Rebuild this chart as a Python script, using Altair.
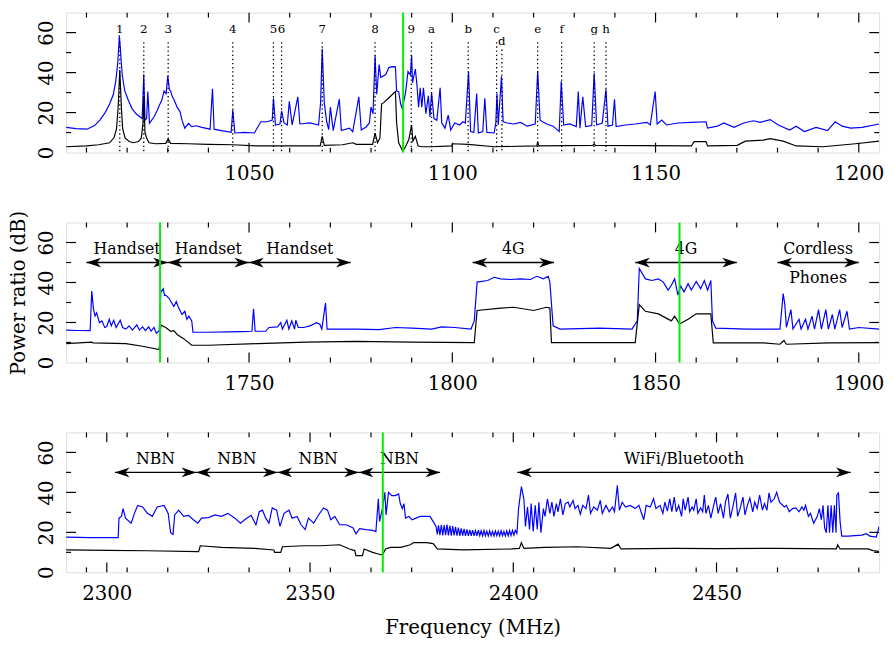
import altair as alt
import pandas as pd

FONT = "DejaVu Serif"
W, H = 825, 142

# ---------------- Panel 1 (1005-1205 MHz) ----------------
P1_BLUE = [(1005.0,12.6),(1007.5,12.0),(1010.1,11.7),(1012.0,13.5),(1013.3,16.2),(1014.6,20.0),(1015.7,24.3),(1016.6,29.0),(1017.2,35.7),(1017.7,45.0),(1018.1,58.7),(1018.5,47.0),(1018.8,38.9),(1019.4,31.0),(1020.2,26.7),(1021.2,22.0),(1022.2,19.4),(1023.7,17.0),(1024.1,39.2),(1024.4,16.2),(1024.8,17.0),(1025.1,30.5),(1025.5,14.6),(1026.6,17.8),(1027.4,21.0),(1027.9,23.5),(1028.5,26.0),(1029.1,30.8),(1029.6,29.5),(1030.0,38.4),(1030.4,31.5),(1030.7,30.8),(1031.1,28.0),(1031.5,26.7),(1032.3,22.7),(1033.0,20.5),(1033.5,16.2),(1034.2,12.2),(1035.1,14.6),(1035.9,13.0),(1037.0,13.4),(1038.4,12.6),(1040.4,11.7),(1041.0,31.9),(1041.4,11.7),(1043.2,11.0),(1045.6,10.1),(1046.0,21.4),(1046.5,9.8),(1048.9,10.1),(1051.3,9.8),(1052.9,15.4),(1054.5,15.4),(1055.7,16.2),(1056.0,27.2),(1056.5,13.8),(1057.6,14.3),(1058.0,20.8),(1058.6,14.8),(1059.4,13.8),(1059.9,25.6),(1060.6,13.8),(1062.0,27.9),(1062.5,14.3),(1065.0,14.8),(1067.1,13.8),(1067.6,25.0),(1068.0,51.9),(1068.5,25.0),(1069.1,15.4),(1069.6,11.5),(1070.0,22.7),(1070.7,11.0),(1072.2,26.7),(1072.7,11.0),(1074.7,12.2),(1075.5,10.4),(1077.0,27.9),(1077.6,11.3),(1078.8,12.8),(1079.6,14.8),(1080.0,22.7),(1080.5,19.4),(1081.0,48.7),(1081.4,29.2),(1082.0,44.0),(1082.4,37.6),(1083.6,38.9),(1084.4,42.5),(1085.2,43.0),(1086.0,42.9),(1086.3,30.8),(1086.8,30.5),(1087.3,24.3),(1087.7,21.9),(1088.5,30.0),(1089.1,40.5),(1089.7,38.9),(1090.0,48.7),(1090.2,34.9),(1090.9,41.8),(1091.3,34.0),(1091.7,22.7),(1092.1,32.4),(1092.5,22.7),(1092.9,32.4),(1093.5,19.4),(1094.1,28.4),(1094.5,17.8),(1094.9,30.0),(1095.5,17.0),(1096.2,16.2),(1097.0,32.4),(1097.4,14.8),(1098.2,12.2),(1099.0,18.7),(1099.6,11.3),(1100.6,14.8),(1101.8,13.8),(1102.6,15.4),(1103.2,14.8),(1104.0,40.5),(1104.5,10.5),(1105.3,10.1),(1106.0,29.5),(1106.4,9.8),(1107.5,10.5),(1108.0,27.2),(1108.5,10.1),(1110.3,9.8),(1110.7,14.8),(1111.0,29.5),(1111.3,13.8),(1112.1,38.1),(1112.5,15.4),(1113.5,14.8),(1115.1,14.3),(1116.8,15.1),(1118.4,13.2),(1120.4,14.3),(1121.0,40.8),(1121.6,16.2),(1123.2,14.3),(1124.8,13.2),(1126.3,10.5),(1126.8,35.7),(1127.4,13.8),(1128.9,14.3),(1130.5,13.0),(1131.0,30.5),(1131.4,12.2),(1132.1,27.9),(1132.8,13.0),(1134.3,13.5),(1134.9,39.7),(1135.5,13.8),(1136.9,14.8),(1137.8,31.6),(1138.3,13.2),(1139.4,13.8),(1139.9,26.7),(1140.3,13.0),(1142.6,13.8),(1145.0,14.3),(1147.9,15.1),(1148.7,13.8),(1149.9,30.5),(1150.4,14.3),(1151.5,16.2),(1152.7,13.8),(1155.5,14.8),(1158.8,15.1),(1162.4,15.4),(1162.8,12.2),(1165.2,13.2),(1166.8,14.8),(1169.3,12.6),(1171.7,14.8),(1174.1,15.9),(1175.7,15.1),(1178.2,16.5),(1180.2,13.8),(1183.0,11.3),(1184.6,13.2),(1186.6,10.5),(1189.5,12.6),(1192.3,11.0),(1194.2,15.4),(1195.9,13.2),(1198.0,12.2),(1200.8,12.6),(1205.0,14.3)]
P1_BLACK = [(1005.0,2.9),(1010.0,3.3),(1013.0,3.9),(1015.7,4.9),(1016.8,7.5),(1017.4,12.0),(1017.8,22.7),(1018.2,41.3),(1018.6,22.0),(1018.9,12.0),(1019.5,7.3),(1020.5,5.5),(1021.5,4.9),(1022.8,5.5),(1023.5,7.3),(1023.9,14.6),(1024.1,27.6),(1024.4,10.0),(1024.8,7.3),(1025.4,4.9),(1027.0,4.4),(1029.5,4.6),(1030.1,6.8),(1030.7,4.6),(1035.0,4.4),(1040.0,4.1),(1046.0,3.9),(1052.1,3.3),(1060.0,3.3),(1067.5,3.3),(1068.0,8.1),(1068.5,3.6),(1073.0,3.9),(1075.5,4.9),(1076.4,4.1),(1080.4,4.1),(1081.0,9.7),(1081.6,4.9),(1082.2,7.3),(1082.6,24.3),(1083.2,25.1),(1084.6,27.8),(1086.0,30.5),(1086.3,14.8),(1086.8,4.9),(1087.8,0.8),(1088.5,2.9),(1089.3,6.5),(1090.0,13.8),(1090.3,5.7),(1090.9,8.1),(1091.6,3.3),(1092.5,2.9),(1094.9,2.9),(1099.8,3.3),(1100.2,4.4),(1103.9,4.1),(1110.3,2.9),(1120.8,3.3),(1121.0,5.5),(1121.3,3.3),(1134.6,3.6),(1134.9,4.4),(1135.2,3.6),(1158.8,3.3),(1159.5,5.5),(1162.4,5.5),(1162.8,3.3),(1170.1,3.6),(1172.1,5.7),(1176.5,6.2),(1178.2,7.0),(1181.4,5.7),(1184.6,3.3),(1191.1,2.9),(1199.2,4.4),(1205.0,5.7)]
P1_GREEN = [1087.9]
P1_LABELS = ["1", "2", "3", "4", "5", "6", "7", "8", "9", "a", "b", "c", "d", "e", "f", "g", "h"]
P1_LABEL_F = [1018.2, 1024.1, 1030.1, 1046.0, 1056.0, 1058.0, 1068.0, 1081.0, 1089.9, 1094.9, 1103.9, 1110.9, 1112.2, 1121.0, 1126.9, 1134.9, 1137.8]
P1_LABEL_P = [61.6, 61.6, 61.6, 61.6, 61.6, 61.6, 61.6, 61.6, 61.6, 61.6, 61.6, 61.6, 56.0, 61.6, 61.6, 61.6, 61.6]
P1_DOT_TOP = [55.2, 55.2, 55.2, 55.2, 55.2, 55.2, 55.2, 55.2, 55.2, 55.2, 55.2, 55.2, 51.5, 55.2, 55.2, 55.2, 55.2]
P1_MAJOR = [1050, 1100, 1150, 1200]

# ---------------- Panel 2 (1705-1905 MHz) ----------------
P2_BLUE = [(1705.0,16.2),(1708.0,16.0),(1710.9,15.9),(1711.3,35.7),(1711.7,27.2),(1712.1,23.2),(1712.5,24.8),(1713.2,19.9),(1713.8,20.8),(1714.5,17.5),(1715.0,18.0),(1715.6,21.6),(1716.1,18.3),(1716.7,21.1),(1717.3,17.5),(1718.3,21.1),(1718.9,17.5),(1719.7,16.7),(1720.5,18.3),(1721.3,16.2),(1722.4,18.8),(1723.0,16.2),(1723.8,17.8),(1724.5,15.9),(1725.3,17.8),(1725.9,15.6),(1726.6,17.5),(1727.2,14.6),(1727.9,15.9),(1728.3,35.3),(1728.9,36.9),(1729.2,33.5),(1729.5,33.7),(1730.3,32.1),(1730.9,30.0),(1731.5,28.0),(1732.1,30.5),(1732.7,27.2),(1733.5,24.0),(1734.2,25.6),(1734.7,21.6),(1735.2,23.2),(1735.9,20.8),(1736.2,15.1),(1740.0,15.1),(1745.0,15.3),(1748.1,15.4),(1750.7,15.6),(1751.1,26.9),(1751.5,15.6),(1754.1,15.6),(1754.9,17.5),(1757.0,17.8),(1757.8,19.9),(1758.2,16.7),(1759.3,21.1),(1759.8,16.7),(1760.5,20.8),(1761.2,16.7),(1761.5,21.1),(1762.1,17.5),(1763.4,17.5),(1765.0,18.3),(1766.6,19.9),(1767.4,19.1),(1767.9,16.7),(1768.8,29.7),(1769.2,16.7),(1776.3,16.7),(1782.0,16.4),(1786.0,17.5),(1790.1,17.2),(1794.9,16.7),(1797.4,17.8),(1800.6,17.5),(1804.6,16.7),(1805.4,20.8),(1806.1,40.2),(1808.7,41.0),(1810.3,42.6),(1811.9,41.8),(1814.3,41.5),(1816.8,41.8),(1819.2,41.5),(1820.8,43.1),(1822.4,41.8),(1823.6,43.1),(1824.0,40.2),(1824.8,18.3),(1826.5,16.7),(1836.2,17.2),(1844.2,16.7),(1845.5,20.8),(1846.0,47.0),(1847.5,41.8),(1849.1,41.0),(1850.7,41.8),(1851.9,40.2),(1853.1,36.2),(1853.9,38.6),(1854.7,41.8),(1855.5,33.7),(1856.2,38.3),(1857.0,35.3),(1858.0,39.4),(1858.8,36.2),(1860.0,40.5),(1861.1,36.9),(1862.0,41.0),(1862.8,36.2),(1863.6,41.0),(1864.0,20.8),(1864.8,17.2),(1872.5,16.7),(1880.6,16.7),(1881.4,34.5),(1881.8,28.9),(1882.2,17.5),(1883.3,26.4),(1883.8,16.7),(1885.3,21.6),(1885.8,16.7),(1886.9,21.6),(1887.5,16.7),(1888.5,23.2),(1889.1,16.7),(1890.1,26.4),(1890.8,16.7),(1891.9,26.4),(1892.5,16.7),(1893.5,24.0),(1894.1,16.7),(1895.3,26.4),(1895.9,17.5),(1897.1,25.6),(1897.7,16.7),(1900.0,17.5),(1905.0,16.7)]
P2_BLACK = [(1705.0,9.4),(1711.3,10.2),(1711.6,9.8),(1719.7,9.4),(1723.8,8.1),(1727.9,6.5),(1728.3,18.8),(1729.5,17.5),(1730.7,15.6),(1731.5,15.9),(1732.3,14.0),(1733.9,11.9),(1735.9,8.6),(1740.0,8.6),(1752.1,9.4),(1764.2,10.2),(1776.3,10.5),(1790.0,10.2),(1805.4,9.9),(1806.1,26.0),(1811.9,27.2),(1815.1,27.6),(1820.0,26.0),(1823.2,27.6),(1824.0,27.2),(1824.4,9.9),(1845.0,9.9),(1846.0,28.9),(1847.5,25.6),(1850.7,24.3),(1853.9,20.8),(1854.7,23.2),(1855.9,19.2),(1858.0,21.6),(1860.0,24.3),(1863.6,24.3),(1864.2,9.8),(1876.5,9.8),(1880.6,9.1),(1881.6,11.0),(1882.2,9.1),(1892.7,9.8),(1905.0,9.9)]
P2_GREEN = [1728.1, 1855.9]
P2_ARROW_START = [1710.0, 1730.0, 1750.0, 1805.0, 1845.0, 1880.0]
P2_ARROW_END = [1730.0, 1750.0, 1775.0, 1825.0, 1870.0, 1900.0]
P2_TEXT = ["Handset", "Handset", "Handset", "4G", "4G", "Cordless", "Phones"]
P2_TEXT_F = [1720.0, 1740.0, 1762.5, 1815.0, 1857.5, 1890.0, 1890.0]
P2_TEXT_P = [56.5, 56.5, 56.5, 56.5, 56.5, 56.5, 42.0]
P2_MAJOR = [1750, 1800, 1850, 1900]

# ---------------- Panel 3 (2290-2490 MHz) ----------------
P3_BLUE = [(2290.0,17.6),(2296.0,17.4),(2302.8,17.4),(2303.0,27.1),(2303.6,28.0),(2304.0,31.9),(2304.6,27.1),(2306.0,24.6),(2306.8,29.5),(2307.6,33.5),(2308.8,32.7),(2310.0,29.5),(2311.2,28.0),(2312.4,32.7),(2314.1,33.5),(2315.1,29.5),(2315.7,19.8),(2316.3,19.0),(2316.7,28.7),(2317.7,31.1),(2318.9,28.0),(2320.1,28.5),(2321.3,26.3),(2322.4,24.6),(2323.3,27.1),(2325.0,27.4),(2326.6,28.7),(2328.2,28.0),(2329.8,29.5),(2331.5,27.1),(2332.9,24.6),(2333.9,26.3),(2335.5,28.5),(2336.7,23.8),(2337.5,30.3),(2338.3,31.1),(2339.1,27.1),(2339.9,24.6),(2340.7,32.2),(2341.8,31.1),(2342.6,23.0),(2343.6,29.5),(2344.8,31.1),(2345.6,27.1),(2346.8,28.0),(2347.8,23.8),(2348.8,21.4),(2349.6,27.1),(2350.9,24.6),(2352.1,28.7),(2353.3,32.2),(2354.3,31.1),(2355.1,26.3),(2356.1,28.0),(2357.3,23.8),(2358.9,23.8),(2360.6,22.2),(2361.3,19.3),(2362.2,21.9),(2363.8,21.4),(2365.4,21.0),(2366.2,20.4),(2366.8,36.8),(2367.1,25.4),(2367.8,31.9),(2368.4,40.0),(2368.7,28.7),(2369.3,40.0),(2370.1,38.4),(2371.0,38.4),(2371.8,39.2),(2372.2,34.4),(2372.7,31.9),(2373.1,34.4),(2373.5,27.1),(2374.3,28.0),(2375.1,26.3),(2377.1,28.0),(2379.5,28.0),(2380.3,25.4),(2381.0,23.0),(2381.3,19.0),
           (2381.6,23.5),(2381.95,18.6),(2382.3,23.8),(2382.65,18.5),(2383.0,23.6),(2383.35,18.6),(2383.7,23.9),(2384.05,18.5),(2384.4,23.4),(2384.75,18.4),(2385.1,23.1),(2385.45,18.5),(2385.8,22.7),(2386.15,18.4),(2386.5,22.4),(2386.85,18.3),(2387.2,22.0),(2387.55,18.4),(2387.9,21.7),(2388.25,18.3),(2388.6,21.5),(2388.95,18.2),(2389.3,21.3),(2389.65,18.3),(2390.0,21.1),(2390.35,18.2),(2390.7,20.9),(2391.05,18.2),(2391.4,21.1),(2391.75,18.3),(2392.1,20.8),(2392.45,18.2),(2392.8,20.9),(2393.15,18.3),(2393.5,20.6),(2393.85,18.2),(2394.2,20.8),(2394.55,18.3),(2394.9,20.5),(2395.25,18.2),(2395.6,20.7),(2395.95,18.3),(2396.3,20.6),(2396.65,18.2),(2397.0,20.8),(2397.35,18.3),(2397.7,20.5),(2398.05,18.2),(2398.4,20.7),(2398.75,18.3),(2399.1,20.9),(2399.45,18.4),(2399.8,21.0),(2400.15,18.6),(2400.5,21.0),(2400.9,19.5),
           (2401.3,31.9),(2402.0,42.9),(2402.6,36.8),(2403.0,23.0),(2403.5,32.7),(2404.0,21.4),(2404.4,34.4),(2404.9,20.4),(2405.4,33.5),(2405.9,21.4),(2406.3,35.1),(2406.8,19.8),(2407.4,31.9),(2407.8,28.0),(2408.4,36.8),(2409.0,29.5),(2409.5,35.1),(2410.0,28.0),(2410.6,34.4),(2411.0,30.3),(2411.6,36.8),(2412.2,28.7),(2412.8,34.4),(2413.5,35.1),(2413.9,32.7),(2414.7,36.0),(2415.2,31.9),(2415.9,33.5),(2416.5,29.1),(2417.1,33.5),(2417.9,31.9),(2418.5,38.7),(2419.0,29.5),(2419.8,32.7),(2420.7,31.1),(2421.4,36.0),(2421.9,29.5),(2422.8,33.5),(2423.6,30.3),(2424.4,32.7),(2424.9,30.3),(2425.6,43.6),(2426.1,31.1),(2426.8,35.1),(2427.6,32.7),(2428.8,33.5),(2430.0,31.9),(2430.9,33.5),(2431.7,28.7),(2432.1,26.3),(2432.7,33.5),(2433.7,32.7),(2434.5,36.8),(2435.1,31.9),(2436.1,33.5),(2436.8,29.5),(2437.3,35.1),(2437.9,30.6),(2438.5,36.8),(2439.0,30.3),(2439.6,37.6),(2440.1,30.3),(2440.7,33.5),(2441.4,28.0),(2441.8,36.8),(2442.3,31.1),(2443.0,37.6),(2443.4,30.3),(2444.0,32.7),(2444.4,31.1),(2445.0,36.8),(2445.4,29.5),(2446.1,32.2),(2446.6,30.3),(2447.0,38.7),(2447.4,29.5),(2448.0,33.5),(2448.6,27.1),(2449.3,33.5),(2449.8,37.6),(2450.4,29.5),(2451.0,34.4),(2451.7,27.1),(2452.2,35.1),(2452.8,39.2),(2453.4,27.1),(2454.1,33.5),(2454.7,39.7),(2455.2,28.0),(2455.8,31.9),(2456.5,37.6),(2457.0,28.7),(2457.6,33.5),(2458.2,37.2),(2458.9,30.3),(2459.4,35.1),(2460.0,31.9),(2460.6,38.7),(2461.3,31.1),(2461.8,34.4),(2462.4,31.1),(2462.9,39.7),(2463.4,35.1),(2464.2,36.8),(2464.8,40.0),(2465.5,35.1),(2466.7,32.7),(2467.2,33.5),(2467.9,30.3),(2468.7,31.9),(2469.5,32.2),(2470.3,30.3),(2471.0,32.7),(2471.5,31.1),(2471.9,33.5),(2472.6,28.0),(2473.1,29.5),(2473.9,24.6),(2474.8,28.0),(2475.3,31.9),(2475.8,26.3),(2476.2,33.5),(2476.6,22.2),(2477.0,19.8),(2477.4,33.5),(2477.8,19.8),(2478.2,33.5),(2478.6,19.8),(2479.0,33.5),(2479.4,19.8),(2479.6,38.7),(2480.0,39.7),(2480.4,25.4),(2480.8,18.1),(2482.4,18.1),(2485.7,18.6),(2486.9,19.3),(2487.7,18.1),(2489.3,17.6),(2490.0,23.0)]
P3_BLACK = [(2290.0,11.2),(2300.0,11.0),(2310.0,10.8),(2322.6,10.4),(2323.0,13.3),(2328.2,12.5),(2336.3,12.0),(2341.1,11.2),(2341.3,10.0),(2342.8,10.0),(2343.2,12.8),(2348.4,13.3),(2352.5,13.3),(2357.3,13.8),(2359.7,11.7),(2361.0,10.9),(2361.3,8.4),(2362.9,8.4),(2363.3,11.7),(2365.4,10.0),(2367.4,8.8),(2367.9,9.1),(2368.6,11.7),(2369.8,12.5),(2372.3,12.5),(2374.7,13.8),(2375.5,14.9),(2378.7,14.9),(2380.3,14.4),(2381.3,11.7),(2387.6,11.2),(2399.7,11.7),(2401.5,12.0),(2402.0,14.9),(2402.6,12.0),(2407.8,12.5),(2415.9,12.8),(2424.0,12.0),(2425.8,14.1),(2426.5,11.7),(2439.4,12.0),(2450.0,11.9),(2465.0,12.0),(2479.5,11.7),(2479.8,13.8),(2480.4,11.7),(2487.3,11.7),(2488.5,10.9),(2490.0,10.5)]
P3_GREEN = [2367.9]
P3_ARROW_START = [2302.0, 2322.0, 2342.0, 2362.0, 2401.0]
P3_ARROW_END = [2322.0, 2342.0, 2362.0, 2382.0, 2483.0]
P3_TEXT = ["NBN", "NBN", "NBN", "NBN", "WiFi/Bluetooth"]
P3_TEXT_F = [2312.0, 2332.0, 2352.0, 2372.0, 2442.0]
P3_TEXT_P = [56.5, 56.5, 56.5, 56.5, 56.5]
P3_MAJOR = [2300, 2350, 2400, 2450]

ARROW_LEVEL = 50.0
Y_MAJOR = [20, 40, 60]
Y_MINOR = [10, 30, 50]
Y_LABELS = [0, 20, 40, 60]

HEAD_R = "M0,0L-2.1,-0.7L-1.5,0L-2.1,0.7Z"
HEAD_L = "M0,0L2.1,-0.7L1.5,0L2.1,0.7Z"


def pairs(rows):
    return pd.DataFrame(rows, columns=["f", "p"])


def panel(f0, f1, blue, black, green, majors, ytitle=None, xtitle=None,
          labels=None, arrows=None, texts=None, pin_top=False):
    xs = alt.Scale(domain=[f0, f1], nice=False, zero=False)
    ys = alt.Scale(domain=[0, 70], nice=False, zero=False)
    xkw = dict(values=majors, format="d", ticks=False, tickSize=0, domain=False, grid=False,
               labelFont=FONT, labelFontSize=20, labelPadding=11.5, labelColor="black",
               labelFlush=False, labelOverlap=False)
    if xtitle:
        xkw.update(title=xtitle, titleFont=FONT, titleFontSize=20, titleFontWeight="normal",
                   titleColor="black", titleX=W / 2, titleY=56, titleAlign="center",
                   titleBaseline="middle")
    else:
        xkw.update(title=None)
    ykw = dict(values=Y_LABELS, ticks=False, tickSize=0, domain=False, grid=False,
               labelFont=FONT, labelFontSize=20, labelPadding=10, labelColor="black",
               labelAngle=270, labelAlign="center", labelBaseline="bottom",
               labelFlush=False, labelOverlap=False)
    if ytitle:
        ykw.update(title=ytitle, titleFont=FONT, titleFontSize=20, titleFontWeight="normal",
                   titleColor="black", titleAngle=270, titleX=-48, titleY=H / 2,
                   titleAlign="center", titleBaseline="middle")
    else:
        ykw.update(title=None)
    xax = alt.Axis(**xkw)
    yax = alt.Axis(**ykw)

    def X(field="f"):
        return alt.X(f"{field}:Q", scale=xs, axis=xax)

    def Y(field="p"):
        return alt.Y(f"{field}:Q", scale=ys, axis=yax)

    layers = []
    # invisible layout pins (fix the left / top extents of the whole figure)
    pin = pd.DataFrame({"k": [0]})
    layers.append(alt.Chart(pin).mark_rule(opacity=0, strokeWidth=1).encode(
        x=alt.value(-57.5), y=alt.value(60), y2=alt.value(70)))
    if pin_top:
        layers.append(alt.Chart(pin).mark_rule(opacity=0, strokeWidth=1).encode(
            x=alt.value(300), x2=alt.value(310), y=alt.value(-19.5)))

    # frame ticks (inward)
    minors = [v for v in range(int(f0) + 5, int(f1), 10) if v not in majors]
    tick_x_minor = pd.DataFrame({"f": minors})
    tick_x_major = pd.DataFrame({"f": majors})
    for d, ln in ((tick_x_minor, 5), (tick_x_major, 10)):
        layers.append(alt.Chart(d).mark_rule(color="black", strokeWidth=1.2).encode(
            x=X(), y=alt.value(H), y2=alt.value(H - ln)))
        layers.append(alt.Chart(d).mark_rule(color="black", strokeWidth=1.2).encode(
            x=X(), y=alt.value(0), y2=alt.value(ln)))
    tick_y_minor = pd.DataFrame({"p": Y_MINOR})
    tick_y_major = pd.DataFrame({"p": Y_MAJOR})
    for d, ln in ((tick_y_minor, 5), (tick_y_major, 10)):
        layers.append(alt.Chart(d).mark_rule(color="black", strokeWidth=1.2).encode(
            y=Y(), x=alt.value(0), x2=alt.value(ln)))
        layers.append(alt.Chart(d).mark_rule(color="black", strokeWidth=1.2).encode(
            y=Y(), x=alt.value(W), x2=alt.value(W - ln)))

    # spectra
    layers.append(alt.Chart(pairs(blue)).mark_line(color="#0000ff", strokeWidth=1.2, clip=True)
                  .encode(x=X(), y=Y(), order="f:Q"))
    layers.append(alt.Chart(pairs(black)).mark_line(color="black", strokeWidth=1.2, clip=True)
                  .encode(x=X(), y=Y(), order="f:Q"))

    if labels is not None:
        names, lf, lp, top = labels
        d = pd.DataFrame({"f": lf, "p": lp, "t": names, "top": top, "p0": [0] * len(lf)})
        layers.append(alt.Chart(d).mark_rule(color="black", strokeWidth=1.3,
                                             strokeDash=[1.4, 2.8]).encode(
            x=X(), y=Y("top"), y2="p0:Q"))
        layers.append(alt.Chart(d).mark_text(font=FONT, fontSize=12, color="black",
                                             align="center", baseline="middle").encode(
            x=X(), y=Y(), text="t:N"))

    if arrows is not None:
        st, en = arrows
        d = pd.DataFrame({"f": st, "f2": en, "p": [ARROW_LEVEL] * len(st)})
        layers.append(alt.Chart(d).mark_rule(color="black", strokeWidth=1.3).encode(
            x=X(), x2="f2:Q", y=Y()))
        dl = pd.DataFrame({"f": st, "p": [ARROW_LEVEL] * len(st)})
        dr = pd.DataFrame({"f": en, "p": [ARROW_LEVEL] * len(en)})
        layers.append(alt.Chart(dl).mark_point(shape=HEAD_L, filled=True, size=200,
                                               color="black", opacity=1, strokeWidth=0)
                      .encode(x=X(), y=Y()))
        layers.append(alt.Chart(dr).mark_point(shape=HEAD_R, filled=True, size=200,
                                               color="black", opacity=1, strokeWidth=0)
                      .encode(x=X(), y=Y()))

    if texts is not None:
        tt, tf, tp = texts
        d = pd.DataFrame({"f": tf, "p": tp, "t": tt})
        layers.append(alt.Chart(d).mark_text(font=FONT, fontSize=16, color="black",
                                             align="center", baseline="middle").encode(
            x=X(), y=Y(), text="t:N"))

    layers.append(alt.Chart(pd.DataFrame({"f": green})).mark_rule(
        color="#00ee00", strokeWidth=2).encode(x=X()))

    return alt.layer(*layers).properties(width=W, height=H)


p1 = panel(1005, 1205, P1_BLUE, P1_BLACK, P1_GREEN, P1_MAJOR,
           labels=(P1_LABELS, P1_LABEL_F, P1_LABEL_P, P1_DOT_TOP), pin_top=True)
p2 = panel(1705, 1905, P2_BLUE, P2_BLACK, P2_GREEN, P2_MAJOR, ytitle="Power ratio (dB)",
           arrows=(P2_ARROW_START, P2_ARROW_END), texts=(P2_TEXT, P2_TEXT_F, P2_TEXT_P))
p3 = panel(2290, 2490, P3_BLUE, P3_BLACK, P3_GREEN, P3_MAJOR, xtitle="Frequency (MHz)",
           arrows=(P3_ARROW_START, P3_ARROW_END), texts=(P3_TEXT, P3_TEXT_F, P3_TEXT_P))

chart = alt.vconcat(p1, p2, p3, spacing=71, bounds="flush").properties(
    padding={"left": 0, "top": -20, "right": 2, "bottom": 0}
).configure_view(stroke="#111111", strokeWidth=1.4).configure(background="white")

chart.save("out.html", embed_options={"renderer": "svg", "actions": False})
